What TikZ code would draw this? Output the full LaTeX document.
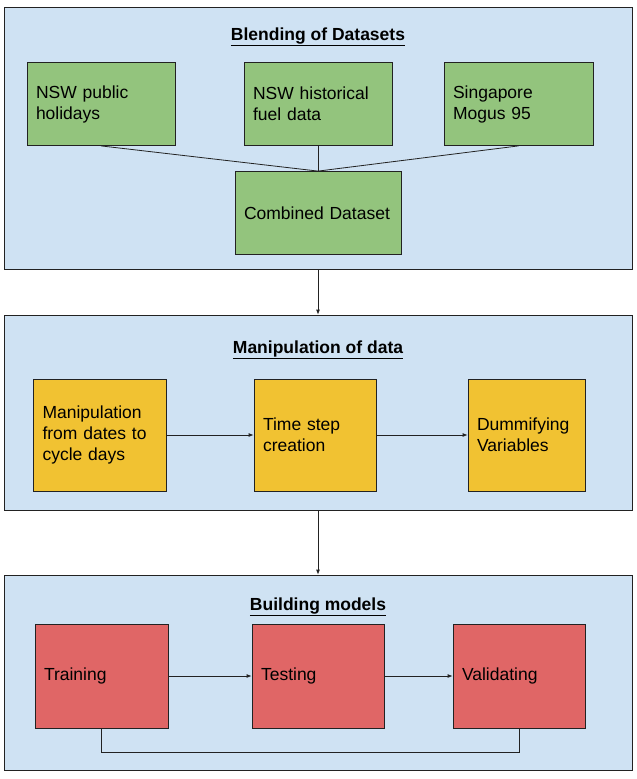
\documentclass[tikz,border=0pt]{standalone}
\usepackage{fontspec}
\setmainfont{Liberation Sans}
\usetikzlibrary{arrows.meta}
\definecolor{panelblue}{HTML}{CFE2F3}
\definecolor{boxgreen}{HTML}{93C47D}
\definecolor{boxyellow}{HTML}{F1C232}
\definecolor{boxred}{HTML}{E06666}
\definecolor{edgegray}{HTML}{222222}

\begin{document}
\begin{tikzpicture}[x=1pt, y=-1pt, line width=.8pt, draw=edgegray,
  panel/.style={rectangle, draw=edgegray, fill=panelblue, minimum width=628pt, minimum height=#1, inner sep=0pt},
  title/.style={inner sep=0pt, font=\fontsize{17.5}{21}\selectfont\bfseries},
  box/.style={rectangle, draw=edgegray, inner xsep=9pt, inner ysep=0pt, align=left, font=\fontsize{17.5}{21}\selectfont},
  flow/.style={-{Latex[length=5pt, width=4pt]}}]
  \useasboundingbox (0,0) rectangle (637,779);
  \node (blend) [panel=262pt] at (318,138) {};
  \node (manip) [panel=195pt] at (318,412.5) {};
  \node (build) [panel=195pt] at (318,672.5) {};
  \node (blendtitle) [title] at (318,37) {\underline{Blending of Datasets}};
  \node (maniptitle) [title] at (318,350) {\underline{Manipulation of data}};
  \node (buildtitle) [title] at (318,607) {\underline{Building models}};
  \node (hol) [box, fill=boxgreen, text width=130pt, minimum height=83pt] at (101,104) {NSW public\\holidays};
  \node (fuel) [box, fill=boxgreen, text width=130pt, minimum height=83pt] at (318,104) {NSW historical\\fuel data};
  \node (mogus) [box, fill=boxgreen, text width=131pt, minimum height=83pt] at (518.5,104) {Singapore\\Mogus 95};
  \node (comb) [box, fill=boxgreen, text width=148pt, minimum height=83pt] at (318,213) {Combined Dataset};
  \node (dates) [box, fill=boxyellow, text width=115pt, minimum height=112pt] at (100,435) {Manipulation\\from dates to\\cycle days};
  \node (tstep) [box, fill=boxyellow, text width=104pt, minimum height=112pt] at (315,435) {Time step\\creation};
  \node (dummy) [box, fill=boxyellow, text width=99pt, minimum height=112pt] at (526.5,435) {Dummifying\\Variables};
  \node (train) [box, fill=boxred, text width=115pt, minimum height=104pt] at (101.5,676) {Training};
  \node (test) [box, fill=boxred, text width=114pt, minimum height=104pt] at (318,676) {Testing};
  \node (valid) [box, fill=boxred, text width=114pt, minimum height=104pt] at (519,676) {Validating};
  \coordinate (loopl) at (101.5,752);
  \coordinate (loopr) at (519,752);
  \draw (hol.south) -- (comb.north);
  \draw (fuel.south) -- (comb.north);
  \draw (mogus.south) -- (comb.north);
  \draw[flow] (blend.south) -- (manip.north);
  \draw[flow] (manip.south) -- (build.north);
  \draw[flow] (dates) -- (tstep);
  \draw[flow] (tstep) -- (dummy);
  \draw[flow] (train) -- (test);
  \draw[flow] (test) -- (valid);
  \draw (train.south) -- (loopl) -- (loopr) -- (valid.south);
\end{tikzpicture}
\end{document}
